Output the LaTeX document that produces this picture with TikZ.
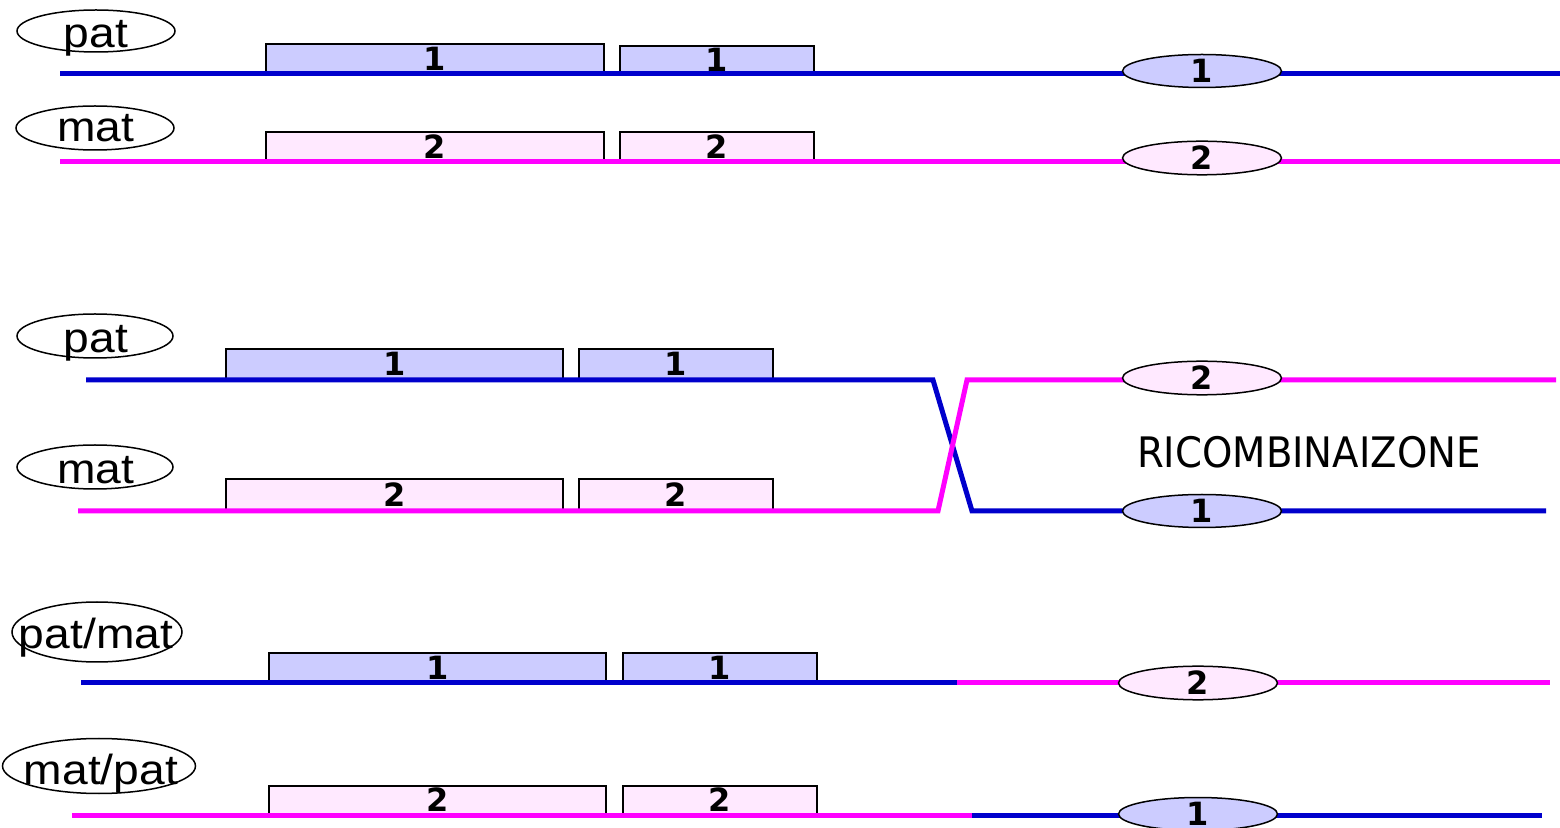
\documentclass[tikz,border=0pt]{standalone}
\usepackage{fontspec}
\usepackage{graphicx}
\setmainfont{Liberation Sans}
\newfontfamily\recofont{DejaVu Sans}
\usetikzlibrary{shapes.geometric}

\definecolor{patblue}{RGB}{0,0,204}
\definecolor{matpink}{RGB}{255,0,255}
\definecolor{patfill}{RGB}{204,204,255}
\definecolor{matfill}{RGB}{255,233,255}

\newdimen\px \px=0.5pt
\newcommand{\tagword}[1]{\scalebox{1.1}[1]{#1}}

\tikzset{
    chrom/.style={line width=5\px},
    gene/.style={draw=black, line width=2\px, inner sep=0pt, anchor=south west,
        font=\recofont\bfseries\fontsize{16}{18}\selectfont},
    gpat/.style={gene, fill=patfill},
    gmat/.style={gene, fill=matfill},
    locus/.style={ellipse, draw=black, line width=1.5\px, inner sep=0pt,
        minimum width=159\px, minimum height=33\px,
        font=\recofont\bfseries\fontsize{16}{18}\selectfont},
    lpat/.style={locus, fill=patfill},
    lmat/.style={locus, fill=matfill},
    tag/.style={ellipse, draw=black, line width=1.5\px, inner sep=0pt},
    tagtext/.style={anchor=base, inner sep=0pt, font=\fontsize{21}{24}\selectfont},
}

\begin{document}
\begin{tikzpicture}[x=1\px, y=-1\px]
    \useasboundingbox (0,0) rectangle (1560,828);

    % --- parental chromosomes
    \node[tag, minimum width=158\px, minimum height=42\px] (tpat1) at (96,31) {};
    \node[tagtext] (wpat1) at (96,48) {\tagword{pat}};
    \node[tag, minimum width=158\px, minimum height=44\px] (tmat1) at (95,128) {};
    \node[tagtext] (wmat1) at (96,142) {\tagword{mat}};

    \node[gpat, minimum width=338\px, minimum height=29\px] (pa1) at (265,74) {1};
    \node[gpat, minimum width=194\px, minimum height=27\px] (pb1) at (619,74) {1};
    \node[gmat, minimum width=338\px, minimum height=29\px] (ma1) at (265,162) {2};
    \node[gmat, minimum width=194\px, minimum height=29\px] (mb1) at (619,162) {2};

    \coordinate (ps1) at (60,74);  \coordinate (pe1) at (1560,74);
    \coordinate (ms1) at (60,162); \coordinate (me1) at (1560,162);
    \draw[chrom, patblue] (ps1) -- (pe1);
    \draw[chrom, matpink] (ms1) -- (me1);

    \node[lpat] (cp1) at (1202,71) {1};
    \node[lmat] (cm1) at (1202,158) {2};

    % --- crossing over
    \node[tag, minimum width=156\px, minimum height=44\px] (tpat2) at (95,336) {};
    \node[tagtext] (wpat2) at (96,353) {\tagword{pat}};
    \node[tag, minimum width=156\px, minimum height=44\px] (tmat2) at (95,467) {};
    \node[tagtext] (wmat2) at (96,484) {\tagword{mat}};

    \node[gpat, minimum width=337\px, minimum height=30\px] (pa2) at (225,380) {1};
    \node[gpat, minimum width=194\px, minimum height=30\px] (pb2) at (578,380) {1};
    \node[gmat, minimum width=337\px, minimum height=31\px] (ma2) at (225,511) {2};
    \node[gmat, minimum width=194\px, minimum height=31\px] (mb2) at (578,511) {2};

    \coordinate (ps2) at (86,380);  \coordinate (pk2) at (933,380);
    \coordinate (pj2) at (972,511); \coordinate (pe2) at (1546,511);
    \coordinate (ms2) at (78,511);  \coordinate (mk2) at (938,511);
    \coordinate (mj2) at (967,380); \coordinate (me2) at (1556,380);
    \draw[chrom, patblue] (ps2) -- (pk2) -- (pj2) -- (pe2);
    \draw[chrom, matpink] (ms2) -- (mk2) -- (mj2) -- (me2);

    \node[lmat] (cm2) at (1202,378) {2};
    \node[lpat] (cp2) at (1202,511) {1};
    \node[font=\recofont\fontsize{21}{24}\selectfont] (reco) at (1309,452)
        {\scalebox{0.92}[1]{RICOMBINAIZONE}};

    % --- recombinant chromosomes
    \node[tag, minimum width=170\px, minimum height=60\px] (tpm) at (97,632) {};
    \node[tagtext] (wpm) at (96,649) {\tagword{pat/mat}};
    \node[tag, minimum width=193\px, minimum height=55\px] (tmp) at (99,766) {};
    \node[tagtext] (wmp) at (101,784) {\tagword{mat/pat}};

    \node[gpat, minimum width=337\px, minimum height=29\px] (pa3) at (268,683) {1};
    \node[gpat, minimum width=194\px, minimum height=29\px] (pb3) at (622,683) {1};
    \node[gmat, minimum width=337\px, minimum height=28\px] (ma3) at (268,815) {2};
    \node[gmat, minimum width=194\px, minimum height=28\px] (mb3) at (622,815) {2};

    \coordinate (ps3) at (81,683);  \coordinate (pm3) at (957,683);
    \coordinate (pe3) at (1550,683);
    \coordinate (ms3) at (72,815);  \coordinate (mm3) at (972,815);
    \coordinate (me3) at (1542,815);
    \draw[chrom, patblue] (ps3) -- (pm3);
    \draw[chrom, matpink] (pm3) -- (pe3);
    \draw[chrom, matpink] (ms3) -- (mm3);
    \draw[chrom, patblue] (mm3) -- (me3);

    \node[lmat] (cm3) at (1198,683) {2};
    \node[lpat] (cp3) at (1198,814) {1};
\end{tikzpicture}
\end{document}
